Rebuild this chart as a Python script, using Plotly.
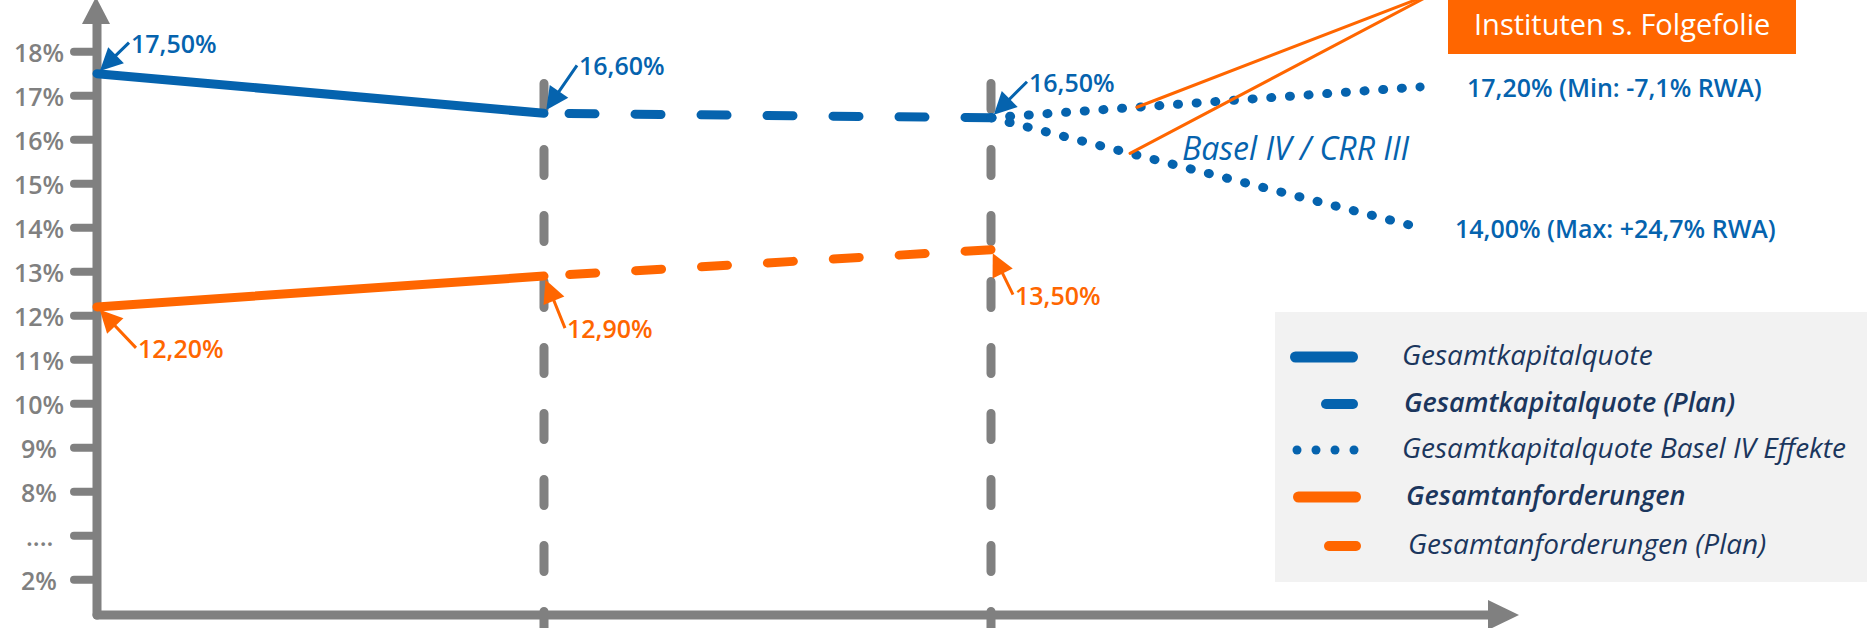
import plotly.graph_objects as go

# ---------------------------------------------------------------- data
period_pos = [0, 1, 2]          # reporting dates along the horizontal axis
basel_pos = 2.96                # horizon of the Basel IV / CRR III projection

kapital_ist = [17.5, 16.6]      # Gesamtkapitalquote, period_pos[0:2]
kapital_plan = [16.6, 16.5]     # Gesamtkapitalquote (Plan), period_pos[1:3]
anforderung_ist = [12.2, 12.9]  # Gesamtanforderungen, period_pos[0:2]
anforderung_plan = [12.9, 13.5] # Gesamtanforderungen (Plan), period_pos[1:3]

basel_min = 17.2                # Gesamtkapitalquote, Basel IV effect (min RWA)
basel_max = 14.0                # Gesamtkapitalquote, Basel IV effect (max RWA)
rwa_min = -7.1
rwa_max = 24.7

# broken value axis: 2% is drawn one step below the "...." gap
y_tick_pos = [6, 7, 8, 9, 10, 11, 12, 13, 14, 15, 16, 17, 18]
y_tick_text = ["2%", "....", "8%", "9%", "10%", "11%", "12%", "13%",
               "14%", "15%", "16%", "17%", "18%"]

legend_labels = ["Gesamtkapitalquote", "Gesamtkapitalquote (Plan)",
                 "Gesamtkapitalquote Basel IV Effekte", "Gesamtanforderungen",
                 "Gesamtanforderungen (Plan)"]

# ---------------------------------------------------------------- styling
BLUE = "#0563AE"
ORANGE = "#FF6600"
GRAY = "#808080"
NAVY = "#1B365D"
FONT = "Open Sans"

W, H = 1867, 628
X_PX0, X_PPU = 97.0, 447.0              # pixel of x=0, pixels per period
Y_REF, Y_PX_REF, Y_PPU = 18.0, 51.7, 44.0  # pixel of 18 %, pixels per point


def xd(px):
    return (px - X_PX0) / X_PPU


def yd(py):
    return Y_REF - (py - Y_PX_REF) / Y_PPU


def xp(px):
    return px / W


def yp(py):
    return 1 - py / H


def pct(v):
    return f"{v:.2f}".replace(".", ",") + "%"


def signed(v):
    return f"{v:+.1f}".replace(".", ",") + "%"


DASH = "26px,40px"      # with round caps: 35 px dash, 31 px gap
DOTS = "1px,17.7px"

fig = go.Figure()


def add_line(x, y, color, width, dash="solid"):
    fig.add_trace(go.Scatter(x=x, y=y, mode="lines", hoverinfo="skip",
                             line=dict(color=color, width=width, dash=dash)))


add_line(period_pos[0:2], kapital_ist, BLUE, 9)
add_line(period_pos[1:3][::-1], kapital_plan[::-1], BLUE, 9, DASH)
add_line(period_pos[0:2], anforderung_ist, ORANGE, 9)
add_line(period_pos[1:3][::-1], anforderung_plan[::-1], ORANGE, 9, DASH)
add_line([period_pos[2], basel_pos], [kapital_plan[-1], basel_min], BLUE, 9, DOTS)
add_line([period_pos[2], basel_pos], [kapital_plan[-1], basel_max], BLUE, 9, DOTS)

shapes = []

# period separators
for p in period_pos[1:]:
    shapes.append(dict(type="line", xref="x", yref="y", x0=p, x1=p,
                       y0=yd(83.5), y1=yd(H + 20), layer="below",
                       line=dict(color=GRAY, width=9, dash=DASH)))

# axes with arrow heads
shapes.append(dict(type="line", xref="x", yref="y", x0=0, x1=0,
                   y0=yd(615), y1=yd(22), layer="below",
                   line=dict(color=GRAY, width=9)))
shapes.append(dict(type="path", xref="paper", yref="paper", layer="below",
                   path=f"M{xp(82)},{yp(24)} L{xp(110)},{yp(24)} L{xp(96)},{yp(-3)} Z",
                   fillcolor=GRAY, line=dict(width=0)))
shapes.append(dict(type="line", xref="x", yref="y", x0=0, x1=xd(1490),
                   y0=yd(615), y1=yd(615), layer="below",
                   line=dict(color=GRAY, width=9)))
shapes.append(dict(type="path", xref="paper", yref="paper", layer="below",
                   path=f"M{xp(1488)},{yp(600)} L{xp(1488)},{yp(630)} L{xp(1519)},{yp(615)} Z",
                   fillcolor=GRAY, line=dict(width=0)))

# tick marks
for v in y_tick_pos:
    shapes.append(dict(type="line", xref="x", yref="y", x0=xd(74), x1=0,
                       y0=v, y1=v, layer="below",
                       line=dict(color=GRAY, width=8)))

# call-out box with its two leader lines
shapes.append(dict(type="rect", xref="paper", yref="paper", layer="below",
                   x0=xp(1448), x1=xp(1796), y0=yp(54), y1=yp(-10),
                   fillcolor=ORANGE, line=dict(width=0)))
f_up, f_lo = 0.34, 0.324
for f, v_end in ((f_up, basel_min), (f_lo, basel_max)):
    xe = period_pos[2] + f * (basel_pos - period_pos[2])
    ye = kapital_plan[-1] + f * (v_end - kapital_plan[-1])
    shapes.append(dict(type="line", xref="x", yref="y",
                       x0=xd(1436), y0=yd(-8), x1=xe, y1=ye,
                       line=dict(color=ORANGE, width=3)))

# legend panel
shapes.append(dict(type="rect", xref="paper", yref="paper", layer="below",
                   x0=xp(1275), x1=xp(W + 5), y0=yp(582), y1=yp(312),
                   fillcolor="#F2F2F2", line=dict(width=0)))
legend_rows = [357, 404, 450, 497, 546]
leg_lines = [(1290, 1358, BLUE, 11), (1321, 1358, BLUE, 10), None,
             (1293, 1361, ORANGE, 11), (1324, 1361, ORANGE, 10)]
for row, spec in zip(legend_rows, leg_lines):
    if spec is None:
        for cx in (1297, 1316, 1335, 1354):
            shapes.append(dict(type="circle", xref="paper", yref="paper",
                               x0=xp(cx - 4.5), x1=xp(cx + 4.5),
                               y0=yp(row + 4.5), y1=yp(row - 4.5),
                               fillcolor=BLUE, line=dict(width=0)))
    else:
        a, b, c, w = spec
        shapes.append(dict(type="line", xref="paper", yref="paper",
                           x0=xp(a + w / 2), x1=xp(b - w / 2),
                           y0=yp(row), y1=yp(row),
                           line=dict(color=c, width=w)))

annotations = []

# tick labels
for v, t in zip(y_tick_pos, y_tick_text):
    annotations.append(dict(xref="paper", yref="y", x=xp(39), y=v, text=t,
                            showarrow=False, xanchor="center", yanchor="middle",
                            font=dict(family=FONT, size=25, color=GRAY, weight=600)))

# value call-outs: (x, value, colour, ax, ay)
callouts = [
    (period_pos[0], kapital_ist[0], BLUE, 32, -31),
    (period_pos[1], kapital_plan[0], BLUE, 33, -48),
    (period_pos[2], kapital_plan[1], BLUE, 36, -36),
    (period_pos[0], anforderung_ist[0], ORANGE, 39, 41),
    (period_pos[1], anforderung_plan[0], ORANGE, 21, 52),
    (period_pos[2], anforderung_plan[1], ORANGE, 22, 45),
]
for x, v, c, ax, ay in callouts:
    annotations.append(dict(x=x, y=v, xref="x", yref="y", text=pct(v),
                            showarrow=True, ax=ax, ay=ay, xanchor="left",
                            yanchor="middle", borderpad=1, standoff=4,
                            arrowhead=2, arrowsize=1.5, arrowwidth=3,
                            arrowcolor=c,
                            font=dict(family=FONT, size=25, color=c, weight=600)))

annotations.append(dict(x=basel_pos, y=basel_min, xref="x", yref="y",
                        text=f"{pct(basel_min)} (Min: {signed(rwa_min)} RWA)",
                        showarrow=False, xanchor="left", yanchor="middle",
                        xshift=45,
                        font=dict(family=FONT, size=25, color=BLUE, weight=600)))
annotations.append(dict(x=basel_pos, y=basel_max, xref="x", yref="y",
                        text=f"{pct(basel_max)} (Max: {signed(rwa_max)} RWA)",
                        showarrow=False, xanchor="left", yanchor="middle",
                        xshift=33,
                        font=dict(family=FONT, size=25, color=BLUE, weight=600)))

annotations.append(dict(xref="paper", yref="paper", x=xp(1180), y=yp(147),
                        text="Basel IV / CRR III", showarrow=False,
                        xanchor="left", yanchor="middle",
                        font=dict(family=FONT, size=32, color=BLUE, style="italic")))

annotations.append(dict(xref="paper", yref="paper", x=xp(1622), y=yp(24),
                        text="Instituten s. Folgefolie", showarrow=False,
                        xanchor="center", yanchor="middle",
                        font=dict(family=FONT, size=29, color="white")))

leg_text_x = [1400, 1402, 1400, 1404, 1406]
leg_size = [28, 27, 28, 27, 28]
leg_weight = [400, 600, 400, 600, 400]
for row, tx, sz, wt, lab in zip(legend_rows, leg_text_x, leg_size, leg_weight,
                                legend_labels):
    annotations.append(dict(xref="paper", yref="paper", x=xp(tx), y=yp(row - 3),
                            text=lab, showarrow=False, xanchor="left",
                            yanchor="middle",
                            font=dict(family=FONT, size=sz, color=NAVY,
                                      style="italic", weight=wt)))

fig.update_layout(
    width=W, height=H,
    margin=dict(l=0, r=0, t=0, b=0),
    paper_bgcolor="white", plot_bgcolor="white",
    showlegend=False,
    xaxis=dict(visible=False, range=[xd(0), xd(W)], fixedrange=True),
    yaxis=dict(visible=False, range=[yd(H), yd(0)], fixedrange=True),
    shapes=shapes, annotations=annotations,
)

# rounded line ends for the dashed and dotted strokes
round_caps = """
var gd = document.getElementById('{plot_id}');
function roundCaps() {
  gd.querySelectorAll('path.js-line, .shapelayer path').forEach(function (p) {
    p.style.strokeLinecap = 'round';
  });
}
roundCaps();
gd.on('plotly_afterplot', roundCaps);
"""

fig.write_html("out.html", post_script=round_caps,
               config={"displayModeBar": False, "staticPlot": True})
